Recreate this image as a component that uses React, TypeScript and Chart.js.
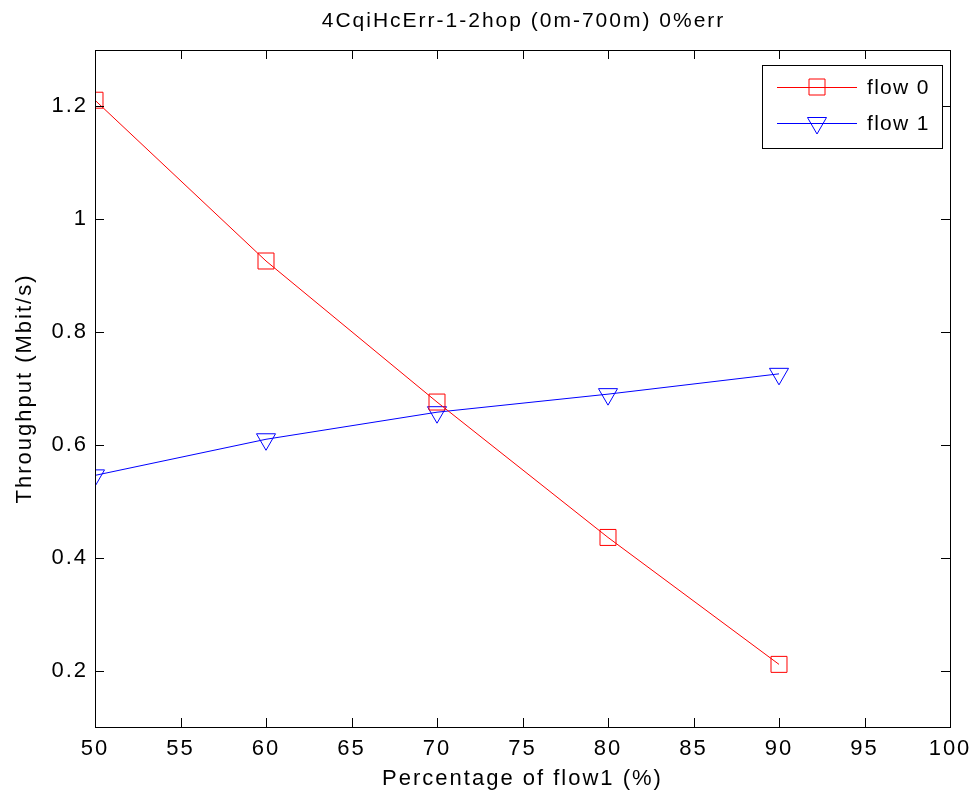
import React, { useEffect, useRef } from "react";
import { Chart, registerables } from "chart.js";

Chart.register(...registerables);

const chartTitle = "4CqiHcErr-1-2hop (0m-700m) 0%err";
const xAxisTitle = "Percentage of flow1 (%)";
const yAxisTitle = "Throughput (Mbit/s)";
const seriesNames = ["flow 0", "flow 1"];
const xValues = [50, 60, 70, 80, 90];
const flow0 = [1.211, 0.926, 0.676, 0.436, 0.211];
const flow1 = [0.546, 0.61, 0.658, 0.69, 0.726];
const xTicks = [50, 55, 60, 65, 70, 75, 80, 85, 90, 95, 100];
const yTicks = [0.2, 0.4, 0.6, 0.8, 1, 1.2];
const xRange = [50, 100];
const yRange = [0.1, 1.3];

const FONT = "'Liberation Sans', Arial, sans-serif";

const spacingPlugin = {
  id: "letterSpacing",
  beforeLayout(chart: any) {
    chart.ctx.letterSpacing = "2px";
  },
  beforeDraw(chart: any) {
    chart.ctx.letterSpacing = "2px";
  },
};

const framePlugin = {
  id: "matlabFrame",
  afterDraw(chart: any) {
    const ctx = chart.ctx;
    const { left, right, top, bottom } = chart.chartArea;
    const xs = chart.scales.x;
    const ys = chart.scales.y;
    ctx.save();
    ctx.strokeStyle = "#000";
    ctx.lineWidth = 1;
    ctx.strokeRect(Math.round(left) + 0.5, Math.round(top) + 0.5, Math.round(right - left), Math.round(bottom - top));
    const tl = 9;
    ctx.beginPath();
    xTicks.forEach((v) => {
      const px = Math.round(xs.getPixelForValue(v)) + 0.5;
      ctx.moveTo(px, bottom);
      ctx.lineTo(px, bottom - tl);
      ctx.moveTo(px, top);
      ctx.lineTo(px, top + tl);
    });
    yTicks.forEach((v) => {
      const py = Math.round(ys.getPixelForValue(v)) + 0.5;
      ctx.moveTo(left, py);
      ctx.lineTo(left + tl, py);
      ctx.moveTo(right, py);
      ctx.lineTo(right - tl, py);
    });
    ctx.stroke();

    // title
    ctx.fillStyle = "#000";
    ctx.letterSpacing = "2px";
    ctx.font = `21px ${FONT}`;
    ctx.textAlign = "left";
    ctx.textBaseline = "middle";
    const tw = ctx.measureText(chartTitle).width - 2;
    ctx.fillText(chartTitle, (left + right) / 2 - tw / 2, 21);

    // legend
    const lx = 762, ly = 65, lw = 180, lh = 83;
    ctx.fillStyle = "#fff";
    ctx.fillRect(lx, ly, lw, lh);
    ctx.strokeStyle = "#000";
    ctx.strokeRect(lx + 0.5, ly + 0.5, lw, lh);
    const rows = [87, 123];
    chart.data.datasets.forEach((ds: any, i: number) => {
      const y = rows[i];
      ctx.strokeStyle = ds.borderColor;
      ctx.lineWidth = 1;
      ctx.beginPath();
      ctx.moveTo(777, y + 0.5);
      ctx.lineTo(857, y + 0.5);
      ctx.stroke();
      const cx = 817;
      ctx.beginPath();
      if (ds.pointStyle === "rect") {
        ctx.rect(cx - 8, y - 8, 16, 16);
      } else {
        const r = 11;
        ctx.moveTo(cx - r * 0.866, y - r * 0.5);
        ctx.lineTo(cx + r * 0.866, y - r * 0.5);
        ctx.lineTo(cx, y + r);
        ctx.closePath();
      }
      ctx.stroke();
      ctx.fillStyle = "#000";
      ctx.letterSpacing = "1.3px";
      ctx.font = `21px ${FONT}`;
      ctx.textAlign = "left";
      ctx.textBaseline = "middle";
      ctx.fillText(ds.label, 867, y + 1);
    });
    ctx.restore();
  },
};

function App() {
  const ref = useRef<HTMLCanvasElement | null>(null);
  useEffect(() => {
    if (!ref.current) return;
    const chart = new Chart(ref.current, {
      type: "line",
      data: {
        datasets: [
          {
            label: seriesNames[0],
            data: xValues.map((x, i) => ({ x, y: flow0[i] })),
            borderColor: "#ff0000",
            backgroundColor: "rgba(0,0,0,0)",
            borderWidth: 1,
            pointStyle: "rect",
            pointRadius: 11.3,
            pointBorderWidth: 1,
            pointBorderColor: "#ff0000",
            pointBackgroundColor: "rgba(0,0,0,0)",
            tension: 0,
          },
          {
            label: seriesNames[1],
            data: xValues.map((x, i) => ({ x, y: flow1[i] })),
            borderColor: "#0000ff",
            backgroundColor: "rgba(0,0,0,0)",
            borderWidth: 1,
            pointStyle: "triangle",
            pointRotation: 180,
            pointRadius: 11,
            pointBorderWidth: 1,
            pointBorderColor: "#0000ff",
            pointBackgroundColor: "rgba(0,0,0,0)",
            tension: 0,
          },
        ],
      },
      options: {
        animation: false,
        responsive: false,
        devicePixelRatio: 1,
        layout: { padding: { top: 50, right: 28, left: 0, bottom: 0 } },
        plugins: {
          legend: { display: false },
          title: { display: false },
          tooltip: { enabled: false },
        },
        scales: {
          x: {
            type: "linear",
            min: xRange[0],
            max: xRange[1],
            grid: { display: false, drawTicks: false },
            border: { display: false },
            afterBuildTicks: (s: any) => {
              s.ticks = xTicks.map((v) => ({ value: v }));
            },
            afterFit: (s: any) => {
              s.height = 69;
              s.paddingLeft = 0;
              s.paddingRight = 0;
            },
            ticks: {
              color: "#000",
              font: { family: FONT, size: 22 },
              padding: 9,
              maxRotation: 0,
              autoSkip: false,
            },
            title: {
              display: true,
              text: xAxisTitle,
              color: "#000",
              font: { family: FONT, size: 22 },
              padding: { top: 4, bottom: 4 },
            },
          },
          y: {
            type: "linear",
            min: yRange[0],
            max: yRange[1],
            grid: { display: false, drawTicks: false },
            border: { display: false },
            afterBuildTicks: (s: any) => {
              s.ticks = yTicks.map((v) => ({ value: v }));
            },
            afterFit: (s: any) => {
              s.width = 95;
              s.paddingTop = 0;
              s.paddingBottom = 0;
            },
            ticks: {
              color: "#000",
              font: { family: FONT, size: 22 },
              padding: 7,
              autoSkip: false,
              callback: (v: any) => String(Number(Number(v).toFixed(1))),
            },
            title: {
              display: true,
              text: yAxisTitle,
              color: "#000",
              font: { family: FONT, size: 22 },
              padding: { top: 12, bottom: 12 },
            },
          },
        },
      },
      plugins: [spacingPlugin, framePlugin],
    } as any);
    return () => chart.destroy();
  }, []);
  return (
    <div style={{ position: "absolute", left: 0, top: 0, width: 978, height: 796, background: "#fff" }}>
      <canvas ref={ref} width={978} height={796} style={{ width: 978, height: 796 }} />
    </div>
  );
}

export default App;
